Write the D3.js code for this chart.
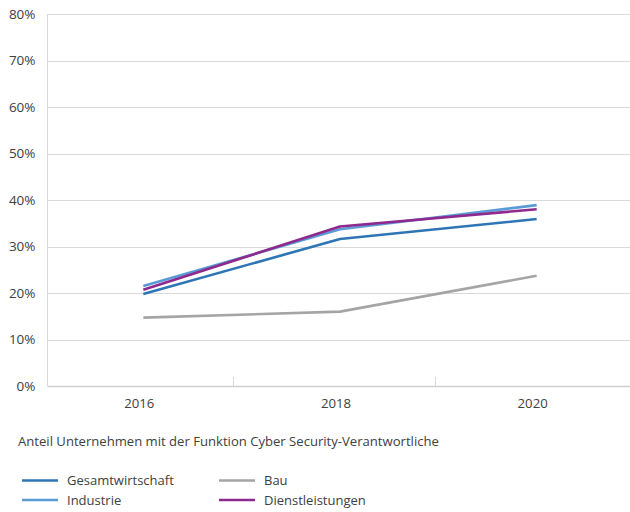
<!DOCTYPE html>
<html><head><meta charset="utf-8">
<script src="https://cdn.jsdelivr.net/npm/d3@7"></script>
<style>body{margin:0;background:#fff}svg{display:block}text{font-family:"Open Sans",sans-serif;fill:#404040}</style>
</head><body><svg id="c" width="630" height="512"></svg>
<script>
const years = ["2016","2018","2020"];
const yTicks = [0,10,20,30,40,50,60,70,80];
const gesamt = [19.8, 31.6, 35.9];
const industrie = [21.5, 33.7, 38.9];
const bau = [14.7, 16.0, 23.7];
const dienst = [20.7, 34.3, 38.0];
const seriesNames = ["Gesamtwirtschaft","Industrie","Bau","Dienstleistungen"];
const seriesColors = ["#2e75b6","#5b9bd5","#a5a5a5","#8e2a8e"];
const caption = "Anteil Unternehmen mit der Funktion Cyber Security-Verantwortliche";

(function(){
const series = [
  {name: seriesNames[0], values: gesamt, color: seriesColors[0]},
  {name: seriesNames[1], values: industrie, color: seriesColors[1]},
  {name: seriesNames[2], values: bau, color: seriesColors[2]},
  {name: seriesNames[3], values: dienst, color: seriesColors[3]}
];
const drawOrder = [2,0,1,3];

const svg = d3.select("#c");
const mLeft = 47.5, mRight = 630, mTop = 14, mBottom = 386;
const y = d3.scaleLinear().domain([0,80]).range([mBottom, mTop]);
const xb = d3.scaleBand().domain(years).range([45, 635]);
const xt = d3.scaleBand().domain(years).range([32, 636]);
const x = d => xb(d) + xb.bandwidth()/2;

svg.append("g").selectAll("line").data(yTicks.filter(t=>t>0)).join("line")
  .attr("x1", mLeft).attr("x2", mRight)
  .attr("y1", d=>Math.round(y(d))+0.5).attr("y2", d=>Math.round(y(d))+0.5)
  .attr("stroke","#d9d9d9").attr("stroke-width",1);
svg.append("line").attr("x1",mLeft).attr("x2",mLeft).attr("y1",y(80)).attr("y2",y(0))
  .attr("stroke","#d9d9d9").attr("stroke-width",1);
svg.append("line").attr("x1",mLeft).attr("x2",mRight).attr("y1",Math.round(y(0))+0.5).attr("y2",Math.round(y(0))+0.5)
  .attr("stroke","#d0d0d0").attr("stroke-width",1.5);
svg.append("g").selectAll("line").data(years.slice(1)).join("line")
  .attr("x1", d=>Math.round(xt(d))+0.5).attr("x2", d=>Math.round(xt(d))+0.5)
  .attr("y1", y(0)-9).attr("y2", y(0))
  .attr("stroke","#d9d9d9").attr("stroke-width",1);

svg.append("g").selectAll("text").data(yTicks).join("text")
  .attr("x", 35.5).attr("y", d=>y(d)+4.8).attr("text-anchor","end")
  .attr("font-size", 13.5).text(d=>d+"%");
svg.append("g").selectAll("text").data(years).join("text")
  .attr("x", d=>x(d)-4).attr("y", 408).attr("text-anchor","middle")
  .attr("font-size", 13.2).text(d=>d);

const line = d3.line().x((v,i)=>x(years[i])).y(v=>y(v));
svg.append("g").selectAll("path").data(drawOrder.map(i=>series[i])).join("path")
  .attr("d", d=>line(d.values)).attr("fill","none")
  .attr("stroke", d=>d.color).attr("stroke-width",2.6).attr("stroke-linejoin","round");

svg.append("text").attr("x",18).attr("y",446).attr("font-size",13.1).text(caption);

const lg = svg.append("g").selectAll("g").data(series).join("g")
  .attr("transform",(d,i)=>`translate(${i<2?22:219},${i%2===0?480.5:500})`);
lg.append("line").attr("x1",0).attr("x2",36).attr("y1",0).attr("y2",0)
  .attr("stroke",d=>d.color).attr("stroke-width",2.6);
lg.append("text").attr("x",45).attr("y",4.5).attr("font-size",13).text(d=>d.name);
})();
</script></body></html>
